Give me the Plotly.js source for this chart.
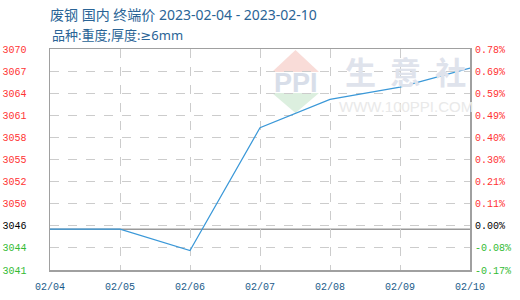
<!DOCTYPE html>
<html>
<head>
<meta charset="utf-8">
<script src="https://cdn.plot.ly/plotly-3.0.1.min.js"></script>
<style>html,body{margin:0;padding:0;background:#fff;}#chart{width:520px;height:300px;}</style>
</head>
<body>
<div id="chart"></div>
<script>
// ---- data ----
var dates = ['02/04', '02/05', '02/06', '02/07', '02/08', '02/09', '02/10'];
var prices = [3046, 3046, 3043.2, 3059.3, 3063.0, 3064.6, 3067.1];
var baseValue = 3046;
var leftTickLabels = ['3041', '3044', '3046', '3050', '3052', '3055', '3058', '3061', '3064', '3067', '3070'];
var rightTickLabels = ['-0.17%', '-0.08%', '0.00%', '0.11%', '0.21%', '0.30%', '0.40%', '0.49%', '0.59%', '0.69%', '0.78%'];
var titleLine1 = '废钢 国内 终端价 2023-02-04 - 2023-02-10';
var titleLine2 = '品种:重度;厚度:<span style="font-family:DejaVu Sans">≥</span>6mm';

// ---- axis range (percent band around base) ----
var yLo = 3040.66, yHi = 3069.6;
var nT = leftTickLabels.length;
var tickVals = [];
for (var i = 0; i < nT; i++) tickVals.push(yLo + i * (yHi - yLo) / (nT - 1));

function colorize(labels) {
  return labels.map(function (t, i) {
    var c = i < 2 ? '#33bb33' : (i === 2 ? '#000000' : '#ff3333');
    return '<span style="color:' + c + '">' + t + '</span>';
  });
}

var lineTrace = {
  x: dates, y: prices, type: 'scatter', mode: 'lines',
  line: {color: '#3a98d8', width: 1.2}, hoverinfo: 'skip', xaxis: 'x', yaxis: 'y'
};
var ghostTrace = {
  x: dates, y: prices, type: 'scatter', mode: 'lines',
  line: {color: 'rgba(0,0,0,0)', width: 0}, hoverinfo: 'skip', xaxis: 'x', yaxis: 'y2', showlegend: false
};

var tickFont = {family: 'Liberation Mono, DejaVu Sans Mono, monospace', size: 10};
var gridCol = '#cccccc';
var titleFam = 'Noto Sans, Noto Sans CJK SC, sans-serif';
var nb = '\u00a0';

var layout = {
  width: 520, height: 300,
  margin: {l: 50, r: 50, t: 49, b: 30, pad: 0},
  paper_bgcolor: '#ffffff', plot_bgcolor: '#ffffff',
  showlegend: false,
  title: {
    text: titleLine1, x: 50 / 520, xanchor: 'left', xref: 'container',
    y: 1 - 15 / 300, yanchor: 'middle', yref: 'container',
    font: {family: titleFam, size: 14, color: '#2a6496'}
  },
  xaxis: {
    type: 'category', range: [0, dates.length - 1],
    showgrid: true, gridcolor: gridCol, griddash: 'dash', gridwidth: 1,
    showline: true, linecolor: '#a0a0a0', linewidth: 1.5, mirror: true,
    ticks: '', tickfont: Object.assign({color: '#1a5a8a'}, tickFont),
    ticklabelstandoff: 6, zeroline: false, fixedrange: true
  },
  yaxis: {
    range: [yLo, yHi], tickmode: 'array', tickvals: tickVals, ticktext: colorize(leftTickLabels),
    showgrid: true, gridcolor: gridCol, griddash: 'dash', gridwidth: 1,
    showline: true, linecolor: '#a0a0a0', linewidth: 1.5, mirror: true,
    ticks: '', tickfont: tickFont, ticklabelstandoff: 20, zeroline: false, fixedrange: true
  },
  yaxis2: {
    range: [yLo, yHi], overlaying: 'y', side: 'right', anchor: 'x',
    tickmode: 'array', tickvals: tickVals, ticktext: colorize(rightTickLabels),
    showgrid: false, showline: false, ticks: '', tickfont: tickFont, ticklabelstandoff: 4,
    zeroline: false, fixedrange: true
  },
  shapes: [
    {type: 'line', xref: 'paper', x0: 0, x1: 1, yref: 'y', y0: baseValue, y1: baseValue,
     line: {color: '#999999', width: 1.5}, layer: 'below'},
    // watermark logo
    {type: 'path', xref: 'paper', yref: 'paper', layer: 'below',
     path: 'M 0.5286 0.8959 L 0.6405 0.8959 L 0.5845 0.9955 Z',
     fillcolor: '#f9dcd8', line: {width: 0}},
    {type: 'path', xref: 'paper', yref: 'paper', layer: 'below',
     path: 'M 0.5286 0.8009 L 0.6405 0.8009 L 0.5845 0.7104 Z',
     fillcolor: '#dcefdf', line: {width: 0}}
  ],
  annotations: [
    {text: titleLine2, xref: 'paper', x: 0, xanchor: 'left', yref: 'paper', y: (270 - 35) / 221, yanchor: 'middle',
     showarrow: false, font: {family: titleFam, size: 13, color: '#2a6496'}},
    {text: '<b>PPI</b>', xref: 'paper', x: 0.5857, xanchor: 'center', yref: 'paper', y: 0.8484, yanchor: 'middle',
     showarrow: false, font: {family: 'Liberation Sans, sans-serif', size: 27, color: '#d8dee9'}},
    {text: '<b>生' + nb + nb + '意' + nb + nb + '社</b>', xref: 'paper', x: 0.8476, xanchor: 'center', yref: 'paper', y: 0.9005, yanchor: 'middle',
     showarrow: false, font: {family: 'Noto Sans CJK SC, sans-serif', size: 31, color: '#dfe3ec'}},
    {text: 'WWW.100PPI.COM', xref: 'paper', x: 0.8476, xanchor: 'center', yref: 'paper', y: 0.738, yanchor: 'middle',
     showarrow: false, font: {family: 'Liberation Sans, sans-serif', size: 15, color: '#e9e9e9'}}
  ]
};

Plotly.newPlot('chart', [ghostTrace, lineTrace], layout, {staticPlot: true, displayModeBar: false});
</script>
</body>
</html>
